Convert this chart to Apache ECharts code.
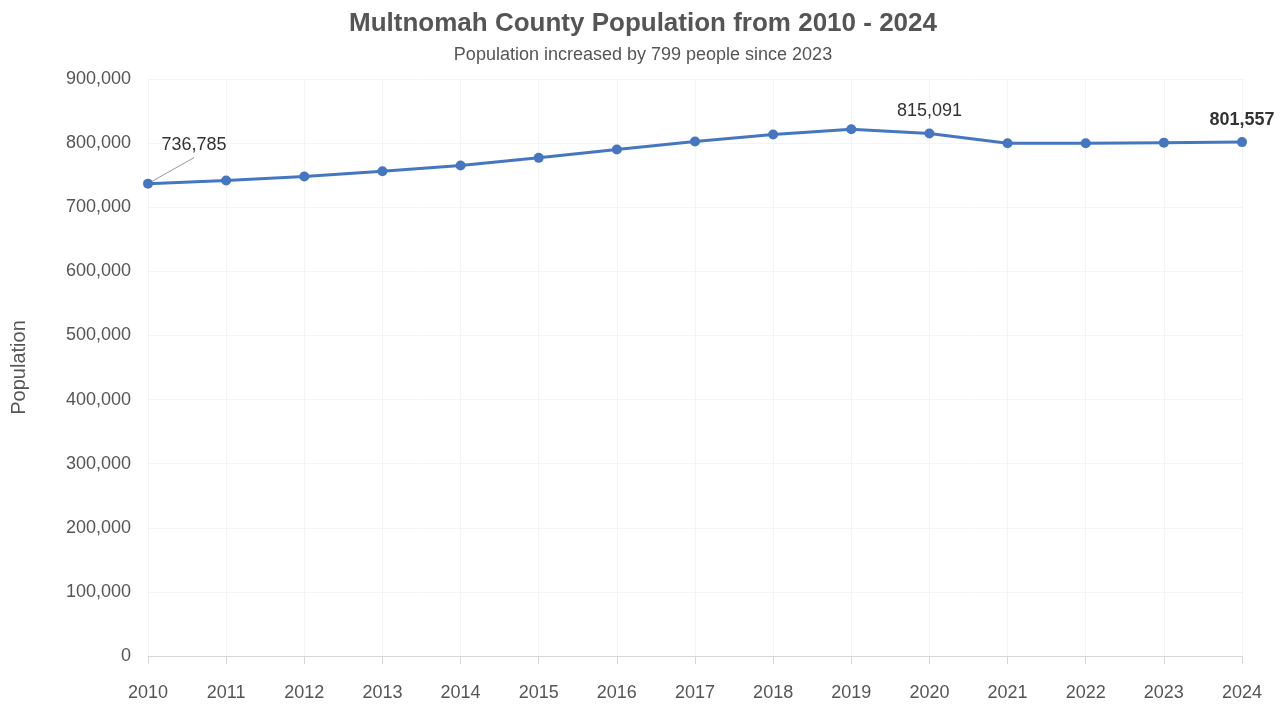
<!DOCTYPE html>
<html>
<head>
<meta charset="utf-8">
<title>Multnomah County Population</title>
<script src="https://cdn.jsdelivr.net/npm/echarts@6/dist/echarts.min.js"></script>
<style>
  html, body { margin: 0; padding: 0; background: #ffffff; }
  #chart { width: 1286px; height: 705px; }
</style>
</head>
<body>
<div id="chart"></div>
<script>
// Annual population estimates, Multnomah County
const years = ['2010', '2011', '2012', '2013', '2014', '2015', '2016', '2017',
               '2018', '2019', '2020', '2021', '2022', '2023', '2024'];
const population = [736785, 741700, 748000, 756200, 765100, 777000, 789900, 802400,
                    813300, 821500, 815091, 799800, 799700, 800758, 801557];
const yTicks = [0, 100000, 200000, 300000, 400000, 500000, 600000, 700000, 800000, 900000];

const labelledIndex = [0, 10, 14];
const fontFamily = '"Liberation Sans", Arial, Helvetica, sans-serif';
const fmt = v => v.toLocaleString('en-US');

const seriesData = population.map((v, i) => {
  const item = { value: v };
  if (labelledIndex.includes(i)) {
    item.label = {
      show: true,
      position: 'top',
      distance: 8,
      fontSize: 18,
      color: '#333333',
      fontWeight: i === population.length - 1 ? 'bold' : 'normal',
      formatter: p => fmt(p.value)
    };
    if (i === 0) {
      // first point: label sits up and to the right, joined by a thin connector
      // meeting the bottom middle of an invisible box around the text
      item.label.padding = [0, 60, 4, 60];
      item.label.backgroundColor = 'rgba(255,255,255,0)';
      item.labelLine = { show: true, length2: 0, lineStyle: { color: '#999999', width: 1 } };
    }
  }
  return item;
});

const chart = echarts.init(document.getElementById('chart'), null, { renderer: 'canvas' });
chart.setOption({
  backgroundColor: '#ffffff',
  animation: false,
  title: {
    text: 'Multnomah County Population from 2010 - 2024',
    subtext: 'Population increased by 799 people since 2023',
    left: 'center',
    top: 6,
    itemGap: 9,
    textStyle: { fontFamily, fontSize: 26, fontWeight: 'bold', color: '#555555' },
    subtextStyle: { fontFamily, fontSize: 18, color: '#555555' }
  },
  grid: { left: 148, right: 44, top: 79, bottom: 49, containLabel: false },
  xAxis: {
    type: 'category',
    data: years,
    boundaryGap: false,
    axisLine: { show: true, lineStyle: { color: '#d6d6d6', width: 1 } },
    axisTick: { show: true, length: 8, lineStyle: { color: '#d6d6d6' } },
    axisLabel: { fontFamily, fontSize: 18, color: '#555555', margin: 28 },
    splitLine: { show: true, lineStyle: { color: '#f4f4f4', width: 1 } }
  },
  yAxis: {
    type: 'value',
    min: 0,
    max: 900000,
    interval: 100000,
    name: 'Population',
    nameLocation: 'middle',
    nameGap: 119,
    nameTextStyle: { fontFamily, fontSize: 20, color: '#555555' },
    axisLine: { show: false },
    axisTick: { show: false },
    axisLabel: {
      fontFamily, fontSize: 18, color: '#555555', margin: 17,
      formatter: v => yTicks.includes(v) ? fmt(v) : ''
    },
    splitLine: { show: true, lineStyle: { color: '#f4f4f4', width: 1 } }
  },
  series: [{
    type: 'line',
    data: seriesData,
    symbol: 'circle',
    symbolSize: 10,
    lineStyle: { color: '#4577c0', width: 3 },
    itemStyle: { color: '#4577c0' },
    label: { show: false },
    labelLayout: p => p.dataIndex === 0 ? { dx: 46, dy: -13 } : {},
    clip: false,
    z: 3
  }]
});
</script>
</body>
</html>
